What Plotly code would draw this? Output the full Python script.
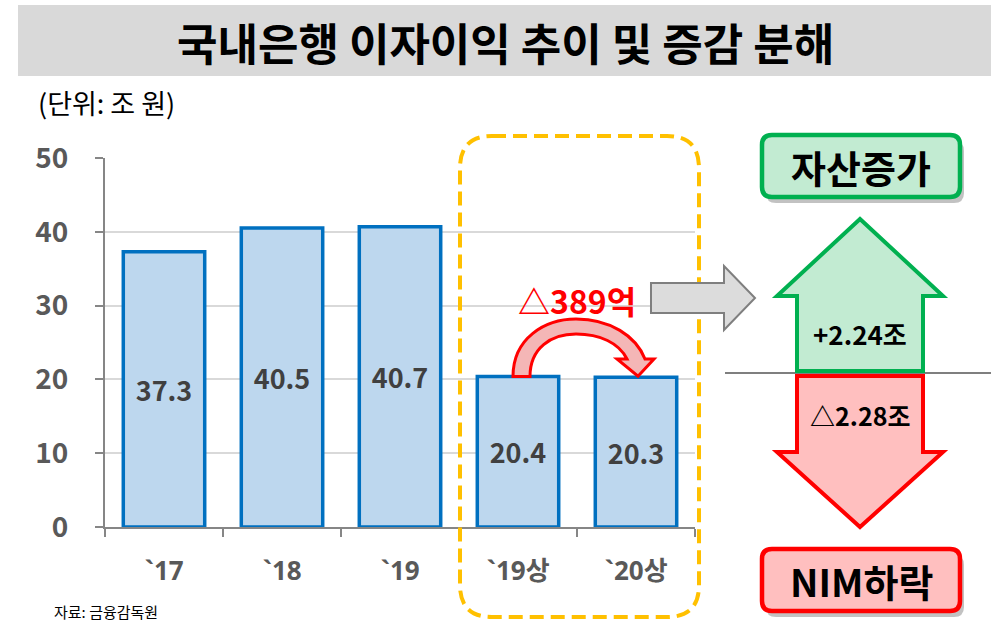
import plotly.graph_objects as go

# ---- data ----
categories = ["`17", "`18", "`19", "`19상", "`20상"]
values = [37.3, 40.5, 40.7, 20.4, 20.3]
bar_labels = ["37.3", "40.5", "40.7", "20.4", "20.3"]
y_ticks = [0, 10, 20, 30, 40, 50]
change_label = "△389억"
asset_label = "+2.24조"
nim_label = "△2.28조"

FONT = "Noto Sans CJK KR"
TICKFONT = "Noto Sans, Noto Sans CJK KR"
W, H = 991, 623
L, R, T, B = 105, 695, 158, 527
PW, PH = R - L, B - T
YMAX = 50


def px(x):
    return (x - L) / PW


def py(y):
    return (B - y) / PH


def path(cmds):
    out = []
    for c in cmds:
        op = c[0]
        pts = c[1:]
        s = op + " " + " ".join(f"{px(x):.5f},{py(y):.5f}" for x, y in pts)
        out.append(s)
    return " ".join(out) + " Z"


def rrect(x0, y0, x1, y1, r):
    return path([
        ("M", (x0 + r, y0)), ("L", (x1 - r, y0)), ("Q", (x1, y0), (x1, y0 + r)),
        ("L", (x1, y1 - r)), ("Q", (x1, y1), (x1 - r, y1)),
        ("L", (x0 + r, y1)), ("Q", (x0, y1), (x0, y1 - r)),
        ("L", (x0, y0 + r)), ("Q", (x0, y0), (x0 + r, y0)),
    ])


fig = go.Figure()
fig.add_trace(go.Bar(
    x=categories, y=values, text=bar_labels, textposition="inside",
    insidetextanchor="middle", width=0.69,
    marker=dict(color="#BDD7EE", line=dict(color="#0070C0", width=3.5)),
    textfont=dict(family=FONT, size=27, color="#404040", weight="bold"),
    hoverinfo="skip", cliponaxis=False,
))

shapes = []
# title bar
shapes.append(dict(type="rect", xref="paper", yref="paper",
                   x0=px(18), x1=px(991), y0=py(76), y1=py(5),
                   fillcolor="#D9D9D9", line=dict(width=0), layer="below"))
# dashed rounded box
shapes.append(dict(type="path", xref="paper", yref="paper",
                   path=rrect(460, 136, 699, 617, 32),
                   line=dict(color="#FFC000", width=4, dash="14px,7px"),
                   fillcolor="rgba(0,0,0,0)", layer="above"))

# red curved arrow between bar tops (anchored to data values)
top4 = B - values[3] / YMAX * PH
top5 = B - values[4] / YMAX * PH
shapes.append(dict(type="path", xref="paper", yref="paper",
                   path=path([
                       ("M", (513, top4)),
                       ("C", (513, 338), (545, 319), (576, 319)),
                       ("C", (610, 319), (636, 336), (645, 359)),
                       ("L", (654, 359)), ("L", (638, top5 - 1)), ("L", (617, 359)),
                       ("L", (627, 359)),
                       ("C", (619, 343), (600, 334), (576, 334)),
                       ("C", (551, 334), (530, 348), (530, top4)),
                   ]),
                   fillcolor="#F4B6B6", line=dict(color="#FF0000", width=3), layer="above"))

# gray block arrow
shapes.append(dict(type="path", xref="paper", yref="paper",
                   path=path([("M", (651, 283)), ("L", (724, 283)), ("L", (724, 266)),
                              ("L", (755, 298)), ("L", (724, 330)), ("L", (724, 313)),
                              ("L", (651, 313))]),
                   fillcolor="#DCDCDC", line=dict(color="#7F7F7F", width=2), layer="above"))

# horizontal divider
shapes.append(dict(type="line", xref="paper", yref="paper",
                   x0=px(725), x1=px(991), y0=py(373), y1=py(373),
                   line=dict(color="#7F7F7F", width=2), layer="above"))

# green up arrow
shapes.append(dict(type="path", xref="paper", yref="paper",
                   path=path([("M", (860, 219)), ("L", (943, 296)), ("L", (923, 296)),
                              ("L", (923, 371)), ("L", (797, 371)), ("L", (797, 296)),
                              ("L", (777, 296))]),
                   fillcolor="#C2EBD2", line=dict(color="#00B050", width=4), layer="above"))

# red down arrow
shapes.append(dict(type="path", xref="paper", yref="paper",
                   path=path([("M", (797, 376)), ("L", (923, 376)), ("L", (923, 452)),
                              ("L", (943, 452)), ("L", (860, 527)), ("L", (777, 452)),
                              ("L", (797, 452))]),
                   fillcolor="#FFBFBF", line=dict(color="#FF0000", width=4), layer="above"))

# label boxes with shadow
for (x0, y0, x1, y1, fill, edge) in [(762, 135, 960, 197, "#C2EBD2", "#00B050"),
                                     (762, 549, 960, 611, "#FFBFBF", "#FF0000")]:
    shapes.append(dict(type="path", xref="paper", yref="paper",
                       path=rrect(x0 + 4, y0 + 6, x1 + 4, y1 + 6, 10),
                       fillcolor="rgba(120,120,120,0.45)", line=dict(width=0), layer="above"))
    shapes.append(dict(type="path", xref="paper", yref="paper",
                       path=rrect(x0, y0, x1, y1, 10),
                       fillcolor=fill, line=dict(color=edge, width=4.5), layer="above"))

annotations = [
    dict(text="<b>국내은행 이자이익 추이 및 증감 분해</b>", x=px(505), y=py(42),
         font=dict(family=FONT, size=44, color="#000000")),
    dict(text="(단위: 조 원)", x=px(36), y=py(102), xanchor="left",
         font=dict(family=FONT, size=27, color="#000000")),
    dict(text=f"<b>{change_label}</b>", x=px(577), y=py(300),
         font=dict(family=FONT, size=32, color="#FF0000")),
    dict(text="<b>자산증가</b>", x=px(861), y=py(166),
         font=dict(family=FONT, size=38, color="#000000")),
    dict(text="<b>NIM하락</b>", x=px(861), y=py(580),
         font=dict(family=FONT, size=38, color="#000000")),
    dict(text=f"<b>{asset_label}</b>", x=px(860), y=py(333),
         font=dict(family=FONT, size=26, color="#000000")),
    dict(text=f"<b>{nim_label}</b>", x=px(860), y=py(415),
         font=dict(family=FONT, size=25, color="#000000")),
    dict(text="자료: 금융감독원", x=px(52), y=py(611), xanchor="left",
         font=dict(family=FONT, size=15, color="#000000")),
]
for a in annotations:
    a.update(xref="paper", yref="paper", showarrow=False)
    a.setdefault("xanchor", "center")
    a["yanchor"] = "middle"

fig.update_layout(
    width=W, height=H,
    margin=dict(l=L, r=W - R, t=T, b=H - B, pad=0),
    paper_bgcolor="white", plot_bgcolor="white",
    showlegend=False, bargap=0.31,
    shapes=shapes, annotations=annotations,
    font=dict(family=FONT),
    xaxis=dict(type="category", showgrid=False, showline=True, linecolor="#868686",
               linewidth=2, ticks="outside", tickson="boundaries", ticklen=8,
               tickcolor="#868686", tickwidth=2, ticklabelstandoff=20,
               tickfont=dict(family=TICKFONT, size=26, color="#595959", weight="bold"),
               range=[-0.5, 4.5]),
    yaxis=dict(range=[0, YMAX], tickvals=y_ticks, showgrid=True, gridcolor="#D9D9D9",
               gridwidth=1.5, zeroline=False, showline=True, linecolor="#868686",
               linewidth=2, ticks="outside", ticklen=8, tickcolor="#868686", tickwidth=2,
               ticklabelstandoff=21,
               tickfont=dict(family=FONT, size=28, color="#595959", weight="bold")),
)

fig.write_html("out.html", config={"displayModeBar": False},
               post_script="document.body.style.margin='0';")
